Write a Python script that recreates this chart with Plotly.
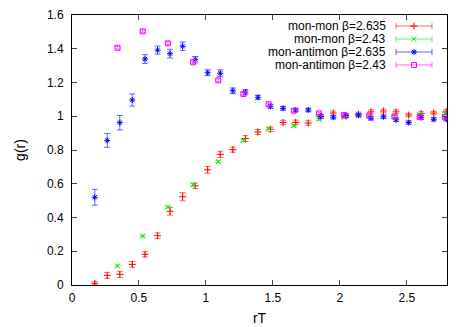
import plotly.graph_objects as go

# r*T values for the beta=2.635 runs and the beta=2.43 runs
rt_2635 = [0.17, 0.263, 0.357, 0.45, 0.545, 0.639, 0.732, 0.826, 0.92, 1.013,
           1.107, 1.201, 1.295, 1.388, 1.482, 1.576, 1.67, 1.764, 1.857, 1.951,
           2.045, 2.139, 2.232, 2.326, 2.42, 2.514, 2.607, 2.701, 2.795]
rt_243 = [0.34, 0.528, 0.716, 0.904, 1.092, 1.28, 1.468, 1.656, 1.844, 2.032,
          2.22, 2.408, 2.596, 2.784]

# mon-mon beta=2.635
g_mm_2635 = [0.01, 0.057, 0.063, 0.122, 0.182, 0.292, 0.437, 0.523, 0.588, 0.683,
             0.774, 0.802, 0.868, 0.907, 0.923, 0.963, 0.964, 0.96, 1.0, 1.019,
             1.004, 1.012, 1.026, 1.031, 1.026, 1.007, 1.017, 1.019, 1.03]
e_mm_2635 = [0.01, 0.018, 0.018, 0.017, 0.015, 0.016, 0.023, 0.024, 0.016, 0.02,
             0.019, 0.015, 0.017, 0.014, 0.013, 0.013, 0.013, 0.013, 0.012, 0.012,
             0.012, 0.012, 0.012, 0.011, 0.011, 0.01, 0.01, 0.01, 0.01]

# mon-mon beta=2.43
g_mm_243 = [0.113, 0.29, 0.462, 0.594, 0.731, 0.857, 0.926, 0.944, 0.982, 0.993,
            1.0, 1.0, 1.01, 1.017]
e_mm_243 = [0.006, 0.006, 0.006, 0.006, 0.006, 0.006, 0.006, 0.006, 0.006, 0.006,
            0.006, 0.006, 0.006, 0.006]

# mon-antimon beta=2.635
g_ma_2635 = [0.52, 0.857, 0.962, 1.096, 1.339, 1.392, 1.371, 1.415, 1.335, 1.258,
             1.255, 1.151, 1.143, 1.112, 1.059, 1.047, 1.037, 1.037, 0.999, 0.994,
             1.002, 1.006, 0.988, 0.997, 0.979, 0.963, 0.992, 0.982, 0.983]
e_ma_2635 = [0.047, 0.041, 0.043, 0.036, 0.026, 0.024, 0.026, 0.025, 0.019, 0.017,
             0.02, 0.017, 0.015, 0.012, 0.011, 0.011, 0.01, 0.01, 0.01, 0.01,
             0.01, 0.01, 0.01, 0.01, 0.01, 0.01, 0.01, 0.01, 0.01]

# mon-antimon beta=2.43
g_ma_243 = [1.406, 1.503, 1.432, 1.32, 1.213, 1.132, 1.071, 1.033, 1.017, 1.007,
            1.005, 0.998, 0.995, 0.995]
e_ma_243 = [0.008, 0.008, 0.008, 0.008, 0.008, 0.008, 0.008, 0.008, 0.008, 0.008,
            0.008, 0.008, 0.008, 0.008]

names = ["mon-mon \u03b2=2.635", "mon-mon \u03b2=2.43",
         "mon-antimon \u03b2=2.635", "mon-antimon \u03b2=2.43"]
colors = ["rgb(255,0,0)", "rgb(0,235,0)", "rgb(0,0,255)", "rgb(255,0,255)"]
bar_colors = ["rgba(255,0,0,0.6)", "rgba(0,235,0,0.6)", "rgba(0,0,255,0.6)",
              "rgba(255,0,255,0.6)"]
symbols = ["cross-thin-open", "x-thin-open", "asterisk-open", "square-open"]
sizes = [5, 5, 5, 5]

series = [(rt_2635, g_mm_2635, e_mm_2635),
          (rt_243, g_mm_243, e_mm_243),
          (rt_2635, g_ma_2635, e_ma_2635),
          (rt_243, g_ma_243, e_ma_243)]

fig = go.Figure()
for (xs, ys, es), c, bc, s, sz in zip(series, colors, bar_colors, symbols, sizes):
    fig.add_trace(go.Scatter(
        x=xs, y=ys, mode="markers",
        marker=dict(symbol=s, size=sz, color=c, line=dict(color=c, width=1)),
        error_y=dict(type="data", array=es, color=bc, thickness=1, width=3),
        showlegend=False,
    ))

# gnuplot-style key: text on the left, sample on the right
key_rows = [0.959, 0.911, 0.863, 0.815]
for name, c, bc, s, sz, ky in zip(names, colors, bar_colors, symbols, sizes, key_rows):
    fig.add_trace(go.Scatter(
        x=[0.912], y=[ky], xaxis="x2", yaxis="y2", mode="markers",
        marker=dict(symbol=s, size=sz, color=c, line=dict(color=c, width=1)),
        error_x=dict(type="constant", value=0.048, color=bc, thickness=1, width=3),
        showlegend=False, hoverinfo="skip",
    ))
    fig.add_annotation(text=name, xref="paper", yref="paper", x=0.843, y=ky,
                       xanchor="right", yanchor="middle", showarrow=False,
                       height=12, font=dict(size=12, color="black"))

axis_style = dict(showline=True, linecolor="black", linewidth=1, mirror="ticks",
                  ticks="inside", ticklen=5, tickcolor="#444", showgrid=False,
                  zeroline=False, automargin=False,
                  tickfont=dict(size=12, color="black"))

# the page body adds an 8px margin, so the figure is 8px smaller on each side
fig.update_layout(
    width=459, height=319,
    margin=dict(l=64, r=20, t=7, b=42),
    paper_bgcolor="white", plot_bgcolor="white",
    font=dict(family="Liberation Sans, Arial, sans-serif", size=12, color="black"),
    xaxis=dict(range=[0, 2.8], dtick=0.5, tick0=0, ticklabelstandoff=2,
               title=dict(text="rT", standoff=8), **axis_style),
    yaxis=dict(range=[0, 1.6], dtick=0.2, tick0=0, ticklabelstandoff=5,
               title=dict(text="g(r)", standoff=18), **axis_style),
    xaxis2=dict(overlaying="x", range=[0, 1], visible=False),
    yaxis2=dict(overlaying="y", range=[0, 1], visible=False),
)

fig.write_html("out.html")
